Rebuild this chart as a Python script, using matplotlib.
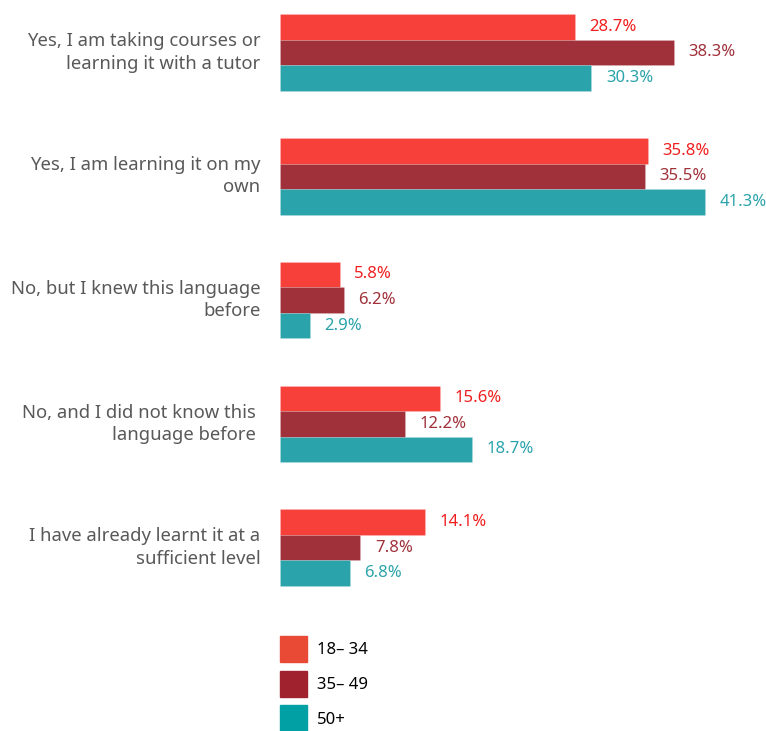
import matplotlib
matplotlib.use('Agg')
import matplotlib.pyplot as plt
import numpy as np
from matplotlib.patches import Patch

# survey answers and shares (%) per age group
categories = ["Yes, I am taking courses or\nlearning it with a tutor",
              "Yes, I am learning it on my\nown",
              "No, but I knew this language\nbefore",
              "No, and I did not know this \nlanguage before ",
              "I have already learnt it at a\nsufficient level"]
age_groups = ["18\u2013 34", "35\u2013 49", "50+"]
vals_18_34 = [28.7, 35.8, 5.8, 15.6, 14.1]
vals_35_49 = [38.3, 35.5, 6.2, 12.2, 7.8]
vals_50 = [30.3, 41.3, 2.9, 18.7, 6.8]

bar_colors = ['#F8403A', '#A0303A', '#2AA3AA']
text_colors = ['#F01E1E', '#A0303A', '#2AA3AA']
legend_colors = ['#E84A35', '#A1222F', '#00A0A5']

plt.rcParams['font.family'] = ['Noto Sans', 'DejaVu Sans']

W, H = 766, 731
fig = plt.figure(figsize=(W / 100, H / 100), dpi=100)
ax = fig.add_axes([280 / W, 0, 1 - 280 / W, 1])
ax.set_xlim(0, (W - 280) / 10.28)
ax.set_ylim(H, 0)
ax.axis('off')

pitch = 123.75
bh = 25.5
centers = 52.5 + pitch * np.arange(len(categories))
series = [vals_18_34, vals_35_49, vals_50]
for k, vals in enumerate(series):
    ys = centers + (k - 1) * bh
    ax.barh(ys, vals, height=bh, color=bar_colors[k], label=age_groups[k],
            edgecolor=(1, 1, 1, 0.15), linewidth=0.6)
    for y, v in zip(ys, vals):
        ax.annotate(f"{v}%", (v, y), xytext=(10.5, 0), textcoords='offset points',
                    va='center', ha='left', fontsize=12, color=text_colors[k])

for y, c in zip(centers, categories):
    ax.annotate(c, (0, y), xytext=(-14, 0), textcoords='offset points',
                va='center', ha='right', fontsize=13.3, color='#595959',
                linespacing=1.32, annotation_clip=False)

handles = [Patch(color=c) for c in legend_colors]
fig.legend(handles, age_groups, loc='upper left',
           bbox_to_anchor=(280 / W, 1 - 636 / H), bbox_transform=fig.transFigure,
           frameon=False, fontsize=12, borderpad=0, borderaxespad=0,
           handlelength=1.62, handleheight=2.02, labelspacing=0.52,
           handletextpad=0.6)

fig.savefig('out.png', dpi=100)
